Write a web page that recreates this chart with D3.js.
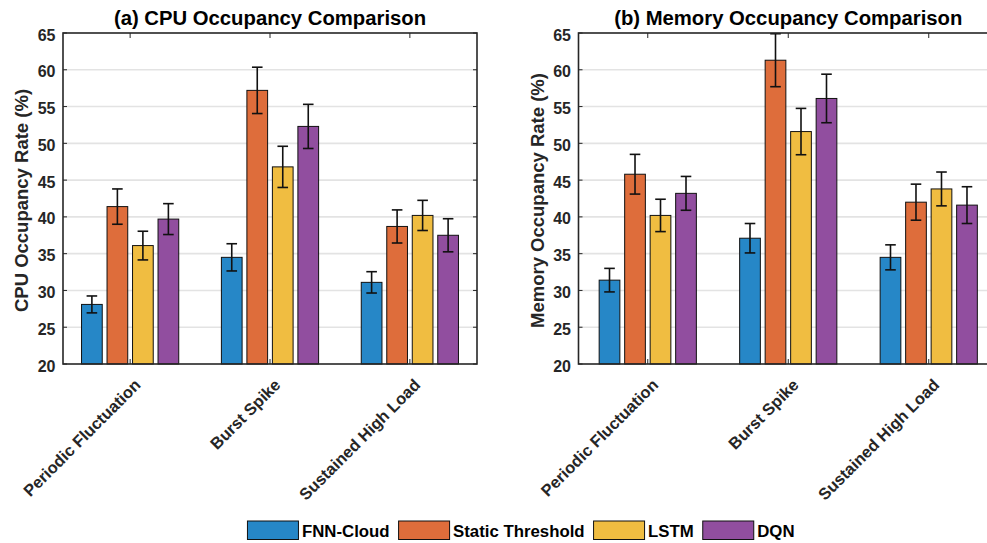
<!DOCTYPE html>
<html>
<head>
<meta charset="utf-8">
<script src="https://cdn.jsdelivr.net/npm/d3@7"></script>
<style>
  body { margin: 0; background: #fff; }
  svg { display: block; font-family: "Liberation Sans", Arial, Helvetica, sans-serif; }
</style>
</head>
<body>
<svg id="chart" width="987" height="543"></svg>
<script>
// ---- data ----
const categories = ["Periodic Fluctuation", "Burst Spike", "Sustained High Load"];
const seriesNames = ["FNN-Cloud", "Static Threshold", "LSTM", "DQN"];
const seriesColors = ["#2687C7", "#DE6D3B", "#F0BD41", "#914E9F"];

const cpuFNN = [28.1, 34.5, 31.1];
const cpuStatic = [41.4, 57.2, 38.7];
const cpuLSTM = [36.1, 46.8, 40.2];
const cpuDQN = [39.7, 52.3, 37.5];
const cpuErrFNN = [1.15, 1.85, 1.45];
const cpuErrStatic = [2.4, 3.15, 2.25];
const cpuErrLSTM = [1.95, 2.8, 2.05];
const cpuErrDQN = [2.1, 3.0, 2.25];

const memFNN = [31.4, 37.1, 34.5];
const memStatic = [45.8, 61.3, 42.0];
const memLSTM = [40.2, 51.6, 43.8];
const memDQN = [43.2, 56.1, 41.6];
const memErrFNN = [1.6, 2.0, 1.7];
const memErrStatic = [2.7, 3.6, 2.45];
const memErrLSTM = [2.2, 3.15, 2.3];
const memErrDQN = [2.3, 3.3, 2.5];

const yTicks = [20, 25, 30, 35, 40, 45, 50, 55, 60, 65];
const yDomain = [20, 65];

const panels = [
  { title: "(a) CPU Occupancy Comparison", ylabel: "CPU Occupancy Rate (%)",
    means: [cpuFNN, cpuStatic, cpuLSTM, cpuDQN], errs: [cpuErrFNN, cpuErrStatic, cpuErrLSTM, cpuErrDQN],
    x0: 63, x1: 477, pad: 0.48, ylabelX: 21 },
  { title: "(b) Memory Occupancy Comparison", ylabel: "Memory Occupancy Rate (%)",
    means: [memFNN, memStatic, memLSTM, memDQN], errs: [memErrFNN, memErrStatic, memErrLSTM, memErrDQN],
    x0: 578.5, x1: 998, pad: 0.493, ylabelX: 537 }
];

const svg = d3.select("#chart");
const plotTop = 33, plotBottom = 364;
const axisColor = "#262626";

panels.forEach(p => {
  const g = svg.append("g");
  const y = d3.scaleLinear().domain(yDomain).range([plotBottom, plotTop]);
  const x = d3.scalePoint().domain(categories).range([p.x0, p.x1]).padding(p.pad);
  const xs = d3.scaleBand().domain(seriesNames).range([-48.6, 48.6]).paddingInner(0.188);

  // gridlines
  g.append("g").selectAll("line").data(yTicks.filter(t => t > 20 && t < 65)).join("line")
    .attr("x1", p.x0).attr("x2", p.x1)
    .attr("y1", d => y(d)).attr("y2", d => y(d))
    .attr("stroke", "#e3e3e3").attr("stroke-width", 1.6);

  // bars
  seriesNames.forEach((s, si) => {
    const sg = g.append("g");
    sg.selectAll("rect").data(categories).join("rect")
      .attr("x", c => x(c) + xs(s))
      .attr("y", (c, i) => y(p.means[si][i]))
      .attr("width", xs.bandwidth())
      .attr("height", (c, i) => y(20) - y(p.means[si][i]))
      .attr("fill", seriesColors[si])
      .attr("stroke", "#111").attr("stroke-width", 1);
  });

  // error bars
  seriesNames.forEach((s, si) => {
    const eg = g.append("g").attr("stroke", "#111").attr("stroke-width", 1.6).attr("fill", "none");
    categories.forEach((c, i) => {
      const cx = x(c) + xs(s) + xs.bandwidth() / 2;
      const hi = y(p.means[si][i] + p.errs[si][i]);
      const lo = y(p.means[si][i] - p.errs[si][i]);
      eg.append("line").attr("x1", cx).attr("x2", cx).attr("y1", hi).attr("y2", lo);
      eg.append("line").attr("x1", cx - 5.3).attr("x2", cx + 5.3).attr("y1", hi).attr("y2", hi);
      eg.append("line").attr("x1", cx - 5.3).attr("x2", cx + 5.3).attr("y1", lo).attr("y2", lo);
    });
  });

  // box
  g.append("rect").attr("x", p.x0).attr("y", plotTop).attr("width", p.x1 - p.x0).attr("height", plotBottom - plotTop)
    .attr("fill", "none").attr("stroke", axisColor).attr("stroke-width", 1.6);

  // inner ticks
  const tk = g.append("g").attr("stroke", axisColor).attr("stroke-width", 1);
  yTicks.forEach(t => {
    tk.append("line").attr("x1", p.x0).attr("x2", p.x0 + 4).attr("y1", y(t)).attr("y2", y(t));
    tk.append("line").attr("x1", p.x1).attr("x2", p.x1 - 4).attr("y1", y(t)).attr("y2", y(t));
  });
  categories.forEach(c => {
    tk.append("line").attr("x1", x(c)).attr("x2", x(c)).attr("y1", plotTop).attr("y2", plotTop + 5);
    tk.append("line").attr("x1", x(c)).attr("x2", x(c)).attr("y1", plotBottom).attr("y2", plotBottom - 5);
  });

  // y tick labels
  g.append("g").selectAll("text").data(yTicks).join("text")
    .attr("x", p.x0 - 7.5).attr("y", d => y(d) + 2)
    .attr("text-anchor", "end").attr("dominant-baseline", "central")
    .attr("font-size", 16).attr("font-weight", "bold").attr("fill", axisColor)
    .text(d => d);

  // x tick labels (rotated)
  g.append("g").selectAll("text").data(categories).join("text")
    .attr("transform", d => `translate(${x(d) + 11.5},${plotBottom + 22}) rotate(-45)`)
    .attr("text-anchor", "end")
    .attr("font-size", 16.4).attr("font-weight", "bold").attr("fill", axisColor)
    .text(d => d);

  // y label
  g.append("text")
    .attr("transform", `translate(${p.ylabelX},${(plotTop + plotBottom) / 2 + 2}) rotate(-90)`)
    .attr("text-anchor", "middle").attr("dominant-baseline", "central")
    .attr("font-size", 18.5).attr("font-weight", "bold").attr("fill", axisColor)
    .text(p.ylabel);

  // title
  g.append("text")
    .attr("x", (p.x0 + p.x1) / 2).attr("y", 25)
    .attr("text-anchor", "middle")
    .attr("font-size", 20.3).attr("font-weight", "bold").attr("fill", "#000")
    .text(p.title);
});

// legend
const lg = svg.append("g");
const items = lg.selectAll("g").data(seriesNames).join("g");
items.append("rect").attr("width", 51).attr("height", 18.5)
  .attr("fill", (d, i) => seriesColors[i]).attr("stroke", "#111").attr("stroke-width", 1);
items.append("text").attr("x", 54.5).attr("y", 10).attr("dominant-baseline", "central")
  .attr("font-size", 16.8).attr("font-weight", "bold").attr("fill", "#000")
  .text(d => d);
let accX = 0;
const offs = [];
items.each(function () {
  const w = d3.select(this).select("text").node().getComputedTextLength();
  offs.push(accX);
  accX += 54.5 + w + 9;
});
const totalW = accX - 9;
const startX = 521 - totalW / 2;
items.attr("transform", (d, i) => `translate(${startX + offs[i]},521)`);
</script>
</body>
</html>
